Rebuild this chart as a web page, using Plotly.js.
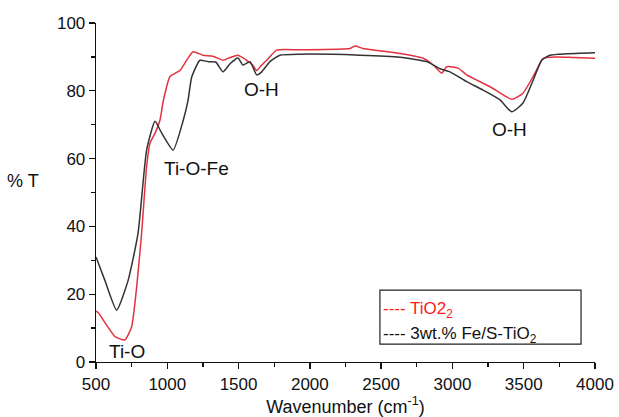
<!DOCTYPE html>
<html><head><meta charset="utf-8">
<script src="https://cdn.plot.ly/plotly-3.0.1.min.js"></script>
<style>html,body{margin:0;padding:0;background:#fff}#chart{width:619px;height:417px}</style>
</head><body><div id="chart"></div>
<script>
// Wavenumber (cm-1) and %T readings
const tio2X = [500, 516, 584, 633, 703, 750, 785, 820, 855, 879, 914, 949, 972, 1019, 1089, 1136, 1181, 1251, 1320, 1392, 1440, 1496, 1557, 1600, 1627, 1660, 1697, 1767, 1931, 2282, 2317, 2373, 2634, 2795, 2866, 2925, 2960, 3040, 3100, 3264, 3416, 3495, 3579, 3637, 3731, 3850, 4000];
const tio2Y = [15.0, 14.5, 10.3, 7.5, 6.5, 10.4, 22, 38, 57.6, 64.6, 67.5, 71.4, 77, 84.2, 86, 89, 91.5, 90.5, 90.2, 89, 89.8, 90.5, 89, 87.5, 86, 87.5, 89, 92, 92.1, 92.5, 93.2, 92.5, 91, 89.6, 87.6, 85.2, 87.1, 86.7, 84.7, 81.2, 77.5, 79.3, 85.2, 89.6, 90, 89.8, 89.6];
const fesX = [500, 563, 645, 725, 795, 855, 914, 961, 1041, 1110, 1145, 1171, 1229, 1286, 1340, 1391, 1440, 1496, 1531, 1580, 1627, 1662, 1720, 1790, 1931, 2352, 2632, 2819, 2913, 2983, 3100, 3215, 3334, 3416, 3495, 3567, 3626, 3684, 3801, 4000];
const fesY = [31, 24, 15.3, 24, 38, 62.5, 71, 67.5, 62.5, 71, 77, 84, 89, 88.6, 88.5, 85.6, 88, 89.7, 87.6, 88.6, 84.7, 85.6, 88.6, 90.5, 90.8, 90.5, 89.9, 88.6, 86.5, 85.6, 82.7, 80.2, 77.3, 73.8, 76.4, 83.2, 89, 90.5, 90.9, 91.2];
const seriesNames = ["TiO2<sub>2</sub>", "3wt.% Fe/S-TiO<sub>2</sub>"];
const bandLabels = ["Ti-O", "Ti-O-Fe", "O-H", "O-H"];
const bandX = [717, 1208, 1664, 3397];
const bandY = [3, 57, 80.5, 68.7];

const font = "Liberation Sans, Arial, sans-serif";
const traces = [
  {x: tio2X, y: tio2Y, mode: "lines", name: seriesNames[0], line: {color: "#e2323f", width: 1.5, shape: "spline", smoothing: 0.5}, showlegend: false},
  {x: fesX, y: fesY, mode: "lines", name: seriesNames[1], line: {color: "#333333", width: 1.5, shape: "spline", smoothing: 0.5}, showlegend: false}
];
const annotations = bandLabels.map((t, i) => ({x: bandX[i], y: bandY[i], text: t, showarrow: false, font: {size: 19, color: "#111", family: font}}));
annotations.push({xref: "paper", yref: "paper", x: -0.11, y: 0.535, text: "% T", showarrow: false, xanchor: "right", yanchor: "middle", font: {size: 18, color: "#111", family: font}});
annotations.push({xref: "paper", yref: "paper", x: 0.572, y: 0.154, xanchor: "left", yanchor: "middle", text: "---- " + seriesNames[0], showarrow: false, font: {size: 17, color: "#ff1a1a", family: font}});
annotations.push({xref: "paper", yref: "paper", x: 0.572, y: 0.080, xanchor: "left", yanchor: "middle", text: "---- " + seriesNames[1], showarrow: false, font: {size: 17, color: "#111", family: font}});

const layout = {
  width: 619, height: 417,
  margin: {l: 96, r: 24, t: 23, b: 55},
  paper_bgcolor: "#fff", plot_bgcolor: "#fff",
  showlegend: false,
  xaxis: {range: [500, 4000], tickvals: [500,1000,1500,2000,2500,3000,3500,4000], ticks: "outside", ticklen: 6, tickwidth: 1.3, tickcolor: "#111",
    minor: {dtick: 250, ticks: "outside", ticklen: 4, tickcolor: "#111", tick0: 500},
    showline: true, linecolor: "#111", linewidth: 1.3, showgrid: false, zeroline: false,
    tickfont: {size: 17, color: "#111", family: font},
    title: {text: "Wavenumber (cm<sup>-1</sup>)", font: {size: 18, color: "#111", family: font}, standoff: 8}},
  yaxis: {range: [0, 100], tickvals: [0,20,40,60,80,100], ticks: "outside", ticklen: 6, tickwidth: 1.3, tickcolor: "#111",
    minor: {dtick: 10, ticks: "outside", ticklen: 4, tickcolor: "#111"},
    showline: true, linecolor: "#111", linewidth: 1.3, showgrid: false, zeroline: false,
    tickfont: {size: 17, color: "#111", family: font}},
  annotations: annotations,
  shapes: [{type: "rect", xref: "paper", yref: "paper", x0: 0.569, x1: 0.972, y0: 0.053, y1: 0.212, line: {color: "#222", width: 1.2}, fillcolor: "rgba(0,0,0,0)"}]
};
Plotly.newPlot("chart", traces, layout, {displayModeBar: false, staticPlot: true});
</script></body></html>
